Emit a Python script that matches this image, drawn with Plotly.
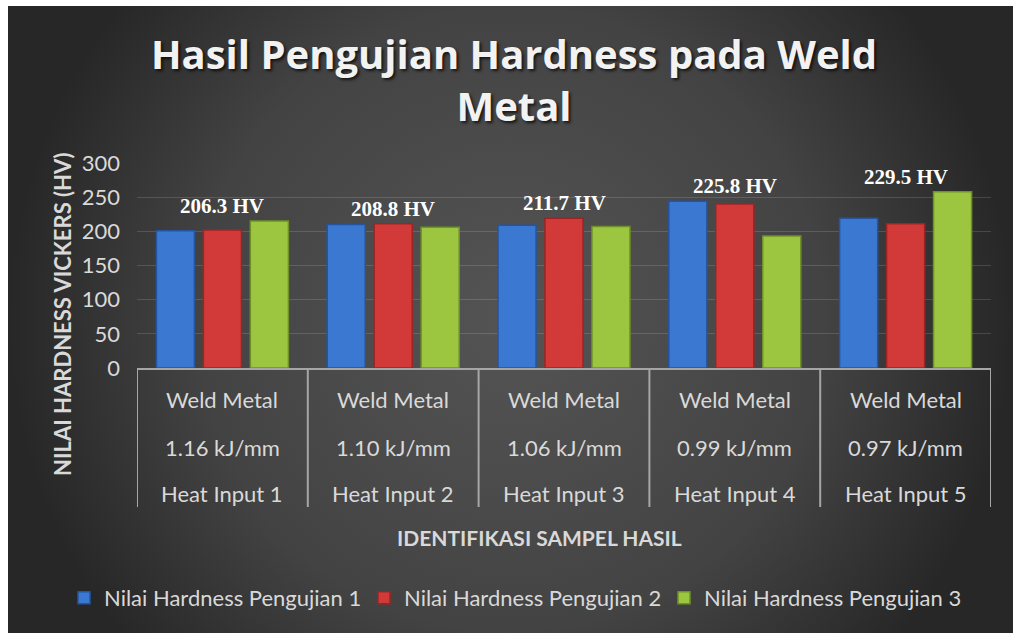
import plotly.graph_objects as go

# ---------------- data ----------------
categories = ["Heat Input 1", "Heat Input 2", "Heat Input 3", "Heat Input 4", "Heat Input 5"]
line1 = ["Weld Metal"] * 5
line2 = ["1.16 kJ/mm", "1.10 kJ/mm", "1.06 kJ/mm", "0.99 kJ/mm", "0.97 kJ/mm"]
line3 = categories
series_names = ["Nilai Hardness Pengujian 1", "Nilai Hardness Pengujian 2", "Nilai Hardness Pengujian 3"]
pengujian1 = [201, 210, 209, 244, 219]
pengujian2 = [202, 211, 219, 240, 211]
pengujian3 = [215, 206, 207, 193, 258]
avg_labels = ["206.3 HV", "208.8 HV", "211.7 HV", "225.8 HV", "229.5 HV"]
y_ticks = [0, 50, 100, 150, 200, 250, 300]

colors = ["#3b78d2", "#d23a3a", "#9cc640"]
edge_colors = ["#24559e", "#9e2424", "#6f9128"]

W, H = 1013, 633
FONT = "Lato"
TXT = "#d9d9d9"

frame_left, frame_top = 8, 6
fx0 = frame_left / W
fy1 = 1 - frame_top / H
vis_w = W - frame_left
vis_h = H - frame_top
ext = (vis_w - vis_h) / 2 / vis_h  # square bbox -> circular gradient

fig = go.Figure()

fig.add_trace(go.Scatter(
    x=[0, 1, 1, 0, 0], y=[-ext, -ext, 1 + ext, 1 + ext, -ext], mode="lines", fill="toself",
    line=dict(width=0),
    fillgradient=dict(type="radial", colorscale=[[0, "#545454"], [0.34, "#4b4b4b"],
                                                 [0.62, "#434343"], [1, "#272727"]]),
    hoverinfo="skip", showlegend=False, xaxis="x", yaxis="y"))

all_series = [pengujian1, pengujian2, pengujian3]
for name, vals, c, ec in zip(series_names, all_series, colors, edge_colors):
    fig.add_trace(go.Bar(
        x=categories, y=vals, name=name, xaxis="x2", yaxis="y2",
        marker=dict(color=c, line=dict(color=ec, width=1.5))))

pl, pr, pt, pb = 137, 991, 163, 368
x_dom = [pl / W, pr / W]
y_dom = [1 - pb / H, 1 - pt / H]

annotations = []
for cat, lab, a, b, c in zip(categories, avg_labels, pengujian1, pengujian2, pengujian3):
    annotations.append(dict(
        x=cat, y=max(a, b, c), xref="x2", yref="y2", text=lab, showarrow=False,
        yanchor="bottom", yshift=1,
        font=dict(family="Liberation Serif", size=21, color="white", weight="bold")))

for lines, ypx in ((line1, 399), (line2, 447), (line3, 493)):
    for cat, t in zip(categories, lines):
        annotations.append(dict(
            x=cat, y=1 - ypx / H, xref="x2", yref="paper", text=t, showarrow=False,
            yanchor="middle", font=dict(family=FONT, size=22, color=TXT)))

annotations.append(dict(
    x=539 / W, y=1 - 537 / H, xref="paper", yref="paper", text="IDENTIFIKASI SAMPEL HASIL",
    showarrow=False, yanchor="middle", font=dict(family=FONT, size=21, color=TXT, weight="bold")))
annotations.append(dict(
    x=62 / W, y=1 - 314 / H, xref="paper", yref="paper", text="NILAI HARDNESS VICKERS (HV)",
    showarrow=False, textangle=-90, xanchor="center", yanchor="middle",
    font=dict(family=FONT, size=22, color=TXT, weight="bold")))

shapes = []
box_bottom = 1 - 507 / H
for i in range(len(categories) + 1):
    shapes.append(dict(type="line", xref="x2", yref="paper", x0=i - 0.5, x1=i - 0.5,
                       y0=box_bottom, y1=y_dom[0], line=dict(color="#a6a6a6", width=2)))

fig.update_layout(
    width=W, height=H, autosize=False, margin=dict(l=0, r=0, t=0, b=0, pad=0, autoexpand=False),
    paper_bgcolor="white", plot_bgcolor="rgba(0,0,0,0)",
    barmode="group", bargap=0.175, bargroupgap=0.19,
    title=dict(text="Hasil Pengujian Hardness pada Weld<br>Metal", x=514 / W, xanchor="center",
               y=1 - 69 / H, yanchor="middle",
               font=dict(family="Open Sans", size=40, color="#f2f2f2", weight="bold",
                         shadow="2px 2px 3px rgba(0,0,0,0.7)")),
    xaxis=dict(domain=[fx0, 1], range=[0, 1], visible=False, fixedrange=True),
    yaxis=dict(domain=[0, fy1], range=[0, 1], visible=False, fixedrange=True),
    xaxis2=dict(domain=x_dom, anchor="y2", type="category", categoryarray=categories,
                range=[-0.5, len(categories) - 0.5], showticklabels=False, showgrid=False,
                showline=True, linecolor="#a6a6a6", linewidth=2, ticks="", automargin=False),
    yaxis2=dict(domain=y_dom, anchor="x2", range=[0, 300], tickvals=y_ticks,
                showgrid=True, gridcolor="rgba(255,255,255,0.14)", gridwidth=1,
                zeroline=False, showline=False, ticks="", ticklabelstandoff=16, automargin=False,
                tickfont=dict(family=FONT, size=22, color=TXT)),
    legend=dict(orientation="h", x=514 / W, xanchor="center", y=1 - 598 / H, yanchor="middle",
                font=dict(family=FONT, size=22, color=TXT), bgcolor="rgba(0,0,0,0)",
                entrywidth=255, itemclick=False),
    annotations=annotations, shapes=shapes,
)

fig.write_html("out.html", config={"responsive": False, "displayModeBar": False},
               post_script="document.body.style.margin='0';document.body.style.overflow='hidden';")
